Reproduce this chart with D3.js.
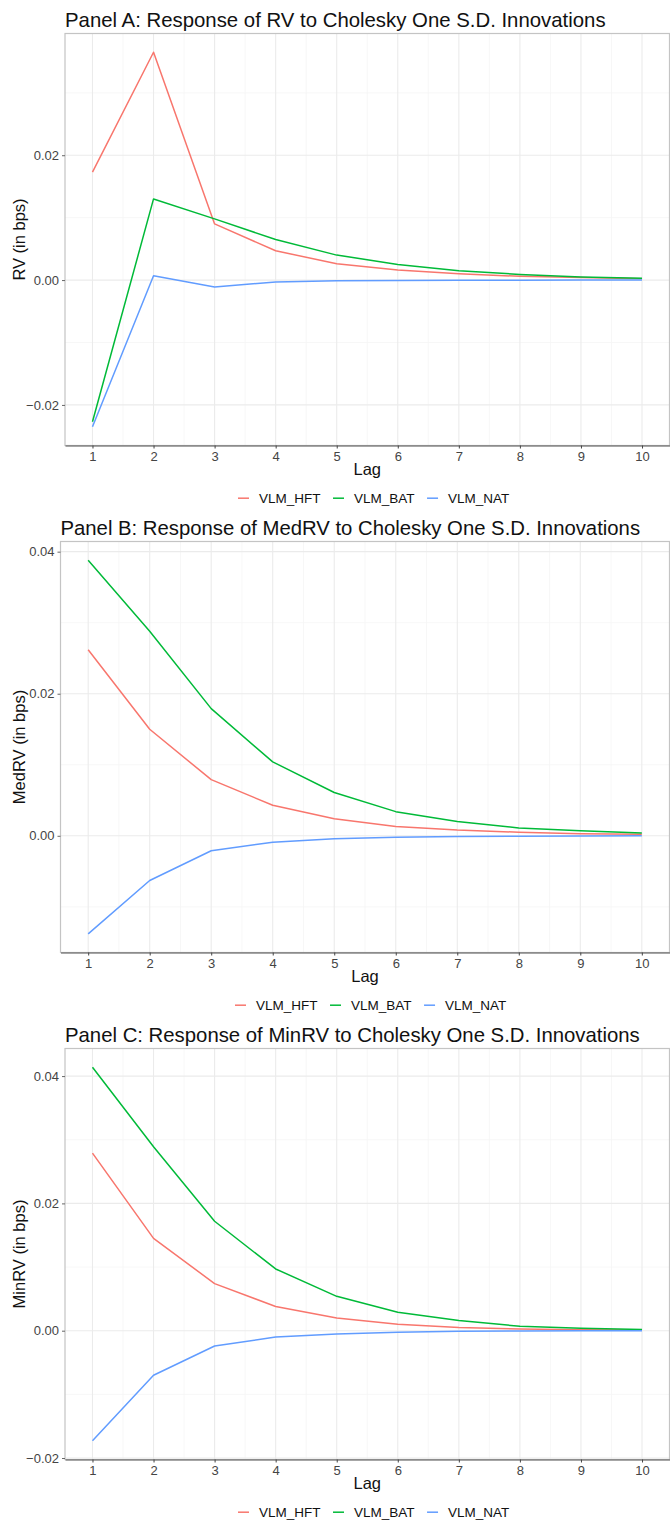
<!DOCTYPE html>
<html>
<head>
<meta charset="utf-8">
<script src="https://cdn.jsdelivr.net/npm/d3@7"></script>
<style>
  html, body { margin: 0; padding: 0; background: #fff; }
  svg { display: block; font-family: "Liberation Sans", Arial, sans-serif; }
</style>
</head>
<body>
<div class="chart-container"></div>
<script>
(function() {
  ////////////////////////////////////////////////////////////
  //// Data //////////////////////////////////////////////////
  ////////////////////////////////////////////////////////////
  const lags = [1, 2, 3, 4, 5, 6, 7, 8, 9, 10];
  const seriesNames = ["VLM_HFT", "VLM_BAT", "VLM_NAT"];
  const seriesColors = ["#F8766D", "#00BA38", "#619CFF"];

  // Panel A: RV
  const rvHft = [0.0173, 0.0365, 0.0090, 0.0047, 0.0026, 0.0016, 0.0010, 0.0006, 0.0004, 0.0002];
  const rvBat = [-0.0227, 0.0130, 0.0098, 0.0065, 0.0040, 0.0025, 0.0015, 0.0009, 0.0005, 0.0003];
  const rvNat = [-0.0235, 0.0007, -0.0011, -0.0003, -0.0001, -0.00005, -0.00002, -0.00001, 0.0, 0.0];
  const rvTicks = [-0.02, 0.0, 0.02];

  // Panel B: MedRV
  const medHft = [0.0262, 0.0150, 0.0079, 0.0043, 0.0024, 0.0013, 0.0008, 0.0005, 0.0003, 0.0002];
  const medBat = [0.0388, 0.0288, 0.0179, 0.0104, 0.0061, 0.0034, 0.0020, 0.0011, 0.0007, 0.0004];
  const medNat = [-0.0138, -0.0063, -0.0021, -0.0009, -0.0004, -0.0002, -0.0001, -0.00005, -0.00002, 0.0];
  const medTicks = [0.0, 0.02, 0.04];

  // Panel C: MinRV
  const minHft = [0.0279, 0.0145, 0.0074, 0.0038, 0.0020, 0.0010, 0.0005, 0.00025, 0.00015, 0.0001];
  const minBat = [0.0414, 0.0289, 0.0172, 0.0097, 0.0054, 0.0029, 0.0016, 0.0007, 0.0004, 0.0002];
  const minNat = [-0.0173, -0.0070, -0.0024, -0.0010, -0.0005, -0.00024, -0.0001, -0.00005, -0.00002, 0.0];
  const minTicks = [-0.02, 0.0, 0.02, 0.04];

  const xTicks = lags;

  ////////////////////////////////////////////////////////////
  //// Layout ////////////////////////////////////////////////
  ////////////////////////////////////////////////////////////
  const chartWidth = 670;
  const chartHeight = 1521;

  const panels = [
    {
      title: "Panel A: Response of RV to Cholesky One S.D. Innovations",
      yTitle: "RV (in bps)",
      series: [rvHft, rvBat, rvNat],
      ticks: rvTicks,
      box: { left: 65, top: 33.5, right: 669.5, bottom: 445.5 },
      titleWidth: 541,
      legendX: 238
    },
    {
      title: "Panel B: Response of MedRV to Cholesky One S.D. Innovations",
      yTitle: "MedRV (in bps)",
      series: [medHft, medBat, medNat],
      ticks: medTicks,
      box: { left: 60.5, top: 541.5, right: 669.5, bottom: 952.5 },
      titleWidth: 580,
      legendX: 235
    },
    {
      title: "Panel C: Response of MinRV to Cholesky One S.D. Innovations",
      yTitle: "MinRV (in bps)",
      series: [minHft, minBat, minNat],
      ticks: minTicks,
      box: { left: 65, top: 1048.5, right: 669.5, bottom: 1459.5 },
      titleWidth: 575,
      legendX: 238
    }
  ];

  const svg = d3
    .select(".chart-container")
    .append("svg")
    .attr("width", chartWidth)
    .attr("height", chartHeight)
    .attr("viewBox", [0, 0, chartWidth, chartHeight]);

  panels.forEach(drawPanel);

  function drawPanel(p) {
    const b = p.box;
    const g = svg.append("g");

    // ggplot style 5% expansion
    const xExt = d3.extent(lags);
    const xPad = (xExt[1] - xExt[0]) * 0.05;
    const xScale = d3
      .scaleLinear()
      .domain([xExt[0] - xPad, xExt[1] + xPad])
      .range([b.left, b.right]);

    const all = p.series.flat();
    const yExt = d3.extent(all);
    const yPad = (yExt[1] - yExt[0]) * 0.05;
    const yScale = d3
      .scaleLinear()
      .domain([yExt[0] - yPad, yExt[1] + yPad])
      .range([b.bottom, b.top]);

    // minor grid
    const xMinor = lags.slice(0, -1).map(d => d + 0.5);
    const step = p.ticks[1] - p.ticks[0];
    const yMinor = d3
      .range(-3, 4)
      .map(i => p.ticks[0] + step * (i + 0.5))
      .filter(v => v > yScale.domain()[0] && v < yScale.domain()[1]);

    g.append("g")
      .selectAll("line")
      .data(xMinor)
      .join("line")
      .attr("x1", d => xScale(d))
      .attr("x2", d => xScale(d))
      .attr("y1", b.top)
      .attr("y2", b.bottom)
      .attr("stroke", "#f5f5f5")
      .attr("stroke-width", 0.8);
    g.append("g")
      .selectAll("line")
      .data(yMinor)
      .join("line")
      .attr("x1", b.left)
      .attr("x2", b.right)
      .attr("y1", d => yScale(d))
      .attr("y2", d => yScale(d))
      .attr("stroke", "#f5f5f5")
      .attr("stroke-width", 0.8);

    // major grid
    g.append("g")
      .selectAll("line")
      .data(xTicks)
      .join("line")
      .attr("x1", d => xScale(d))
      .attr("x2", d => xScale(d))
      .attr("y1", b.top)
      .attr("y2", b.bottom)
      .attr("stroke", "#ebebeb")
      .attr("stroke-width", 1.1);
    g.append("g")
      .selectAll("line")
      .data(p.ticks)
      .join("line")
      .attr("x1", b.left)
      .attr("x2", b.right)
      .attr("y1", d => yScale(d))
      .attr("y2", d => yScale(d))
      .attr("stroke", "#ebebeb")
      .attr("stroke-width", 1.1);

    // panel border
    g.append("rect")
      .attr("x", b.left)
      .attr("y", b.top)
      .attr("width", b.right - b.left)
      .attr("height", b.bottom - b.top)
      .attr("fill", "none")
      .attr("stroke", "#c4c4c4")
      .attr("stroke-width", 1.2);

    // lines
    const line = d3
      .line()
      .x((d, i) => xScale(lags[i]))
      .y(d => yScale(d));
    g.append("g")
      .selectAll("path")
      .data(p.series)
      .join("path")
      .attr("d", line)
      .attr("fill", "none")
      .attr("stroke", (d, i) => seriesColors[i])
      .attr("stroke-width", 1.5)
      .attr("stroke-linejoin", "round");

    // x axis
    const xAxis = g
      .append("g")
      .attr("transform", `translate(0,${b.bottom})`)
      .call(
        d3
          .axisBottom(xScale)
          .tickValues(xTicks)
          .tickSizeInner(3)
          .tickSizeOuter(0)
          .tickPadding(3)
      );
    xAxis.select(".domain").attr("stroke", "#555").attr("stroke-width", 1.2);
    xAxis.selectAll(".tick line").attr("stroke", "#444");
    xAxis
      .selectAll(".tick text")
      .attr("fill", "#444")
      .attr("font-size", 13)
      .attr("font-family", "Liberation Sans, Arial, sans-serif");

    // y axis
    const yAxis = g
      .append("g")
      .attr("transform", `translate(${b.left},0)`)
      .call(
        d3
          .axisLeft(yScale)
          .tickValues(p.ticks)
          .tickFormat(d3.format(".2f"))
          .tickSizeInner(3)
          .tickSizeOuter(0)
          .tickPadding(3)
      );
    yAxis.select(".domain").remove();
    yAxis.selectAll(".tick line").attr("stroke", "#666");
    yAxis
      .selectAll(".tick text")
      .attr("fill", "#444")
      .attr("font-size", 13)
      .attr("font-family", "Liberation Sans, Arial, sans-serif");

    // axis titles
    g.append("text")
      .attr("x", (b.left + b.right) / 2)
      .attr("y", b.bottom + 29.8)
      .attr("text-anchor", "middle")
      .attr("font-size", 16.5)
      .attr("fill", "#111")
      .text("Lag");
    g.append("text")
      .attr("transform", `translate(19,${(b.top + b.bottom) / 2}) rotate(-90)`)
      .attr("dy", "0.35em")
      .attr("text-anchor", "middle")
      .attr("font-size", 16.5)
      .attr("fill", "#111")
      .text(p.yTitle);

    // title, scaled to the reference width
    const title = g
      .append("text")
      .attr("x", b.left)
      .attr("y", b.top - 7)
      .attr("font-size", 18)
      .attr("fill", "#111")
      .text(p.title);
    const tw = title.node().getComputedTextLength();
    title.attr("font-size", (18 * p.titleWidth) / tw);

    // legend
    const legend = g
      .append("g")
      .attr("transform", `translate(${p.legendX},${b.bottom + 52.7})`);
    let cx = 0;
    seriesNames.forEach((name, i) => {
      const item = legend.append("g").attr("transform", `translate(${cx},0)`);
      item
        .append("line")
        .attr("x1", 0)
        .attr("x2", 11)
        .attr("stroke", seriesColors[i])
        .attr("stroke-width", 1.5);
      const t = item
        .append("text")
        .attr("x", 21)
        .attr("dy", "0.36em")
        .attr("font-size", 13.5)
        .attr("fill", "#111")
        .text(name);
      cx += 21 + t.node().getComputedTextLength() + 12.5;
    });
  }
})();
</script>
</body>
</html>
